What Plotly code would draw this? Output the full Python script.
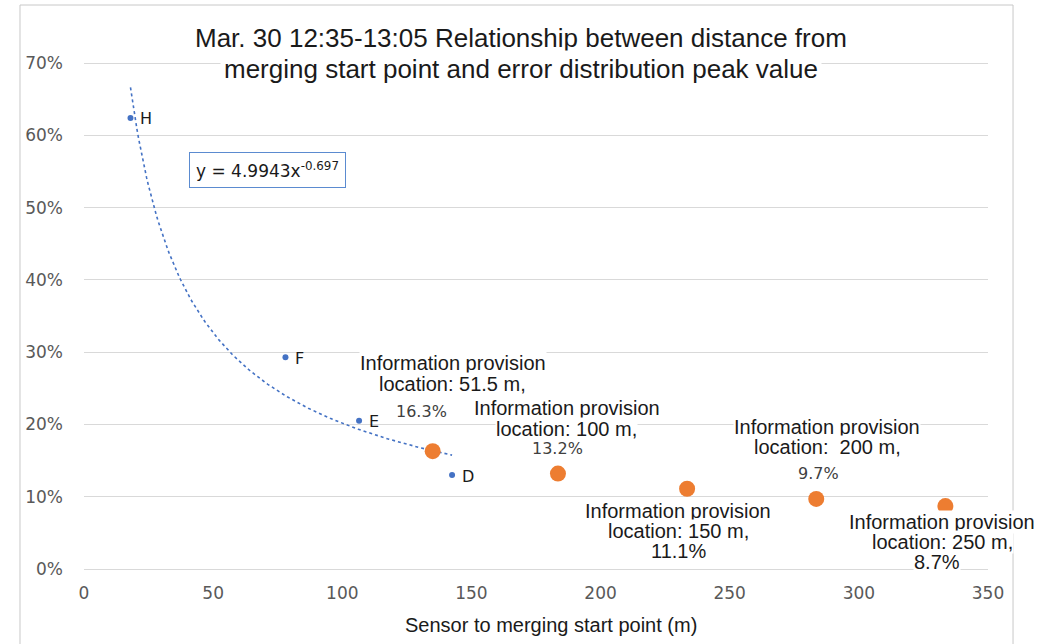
import numpy as np
import plotly.graph_objects as go

# Sensor observations (distance to merging start point, peak value of error distribution)
sensor_ids = ["H", "F", "E", "D"]
sensor_dist = [18, 78, 106.5, 142.5]
sensor_peak = [0.624, 0.293, 0.205, 0.130]

# Information provision locations mapped onto the same distance axis
info_loc_text = ["51.5", "100", "150", "200", "250"]
info_dist = [135, 183.5, 233.5, 283.5, 333.5]
info_peak = [0.163, 0.132, 0.111, 0.097, 0.087]

# Power trendline fitted to the sensor points: y = a * x^b
trend_a = 4.9943
trend_b = -0.697

x_ticks = [0, 50, 100, 150, 200, 250, 300, 350]
y_ticks = [0, 0.1, 0.2, 0.3, 0.4, 0.5, 0.6, 0.7]

title_lines = [
    "Mar. 30 12:35-13:05 Relationship between distance from",
    "merging start point and error distribution peak value",
]

BLUE = "#4472C4"
ORANGE = "#ED7D31"
GRID = "#d9d9d9"
TICK = "#595959"
TEXT = "#1a1a1a"

# Plot area geometry (pixels)
PLOT_TOP, PLOT_BOTTOM = 61, 569
PLOT_H = PLOT_BOTTOM - PLOT_TOP


def py(pix):
    """Convert a pixel row to paper y."""
    return (PLOT_BOTTOM - pix) / PLOT_H


fig = go.Figure()

tx = np.linspace(min(sensor_dist), max(sensor_dist), 200)
fig.add_trace(go.Scatter(
    x=tx, y=trend_a * tx ** trend_b, mode="lines",
    line=dict(color=BLUE, width=1.6, dash="dot"),
    hoverinfo="skip", showlegend=False,
))

fig.add_trace(go.Scatter(
    x=sensor_dist, y=sensor_peak, mode="markers",
    marker=dict(color=BLUE, size=6),
    showlegend=False,
))

fig.add_trace(go.Scatter(
    x=info_dist, y=info_peak, mode="markers",
    marker=dict(color=ORANGE, size=16),
    showlegend=False,
))

annotations = []

# Sensor point labels
for name, xv, yv in zip(sensor_ids, sensor_dist, sensor_peak):
    annotations.append(dict(
        x=xv, y=yv, xref="x", yref="y", text=name, showarrow=False,
        xanchor="left", yanchor="middle", xshift=8, yshift=-1,
        font=dict(family="DejaVu Sans", size=16, color=TEXT),
    ))

# Information provision labels: (line shifts, percent shift, percent style)
label_layout = [
    ((20, 88), (20, 67), (-11, 40), "grey"),
    ((9, 66), (9, 45), (0, 25), "grey"),
    ((-9, -22), (-9, -42), (-9, -62), "black"),
    ((11, 72), (11, 52), (2, 25), "grey"),
    ((-3, -16), (-3, -36), (-8, -56), "black"),
]
for loc, xv, yv, lay in zip(info_loc_text, info_dist, info_peak, label_layout):
    (s1x, s1y), (s2x, s2y), (s3x, s3y), style = lay
    loc_line = f"location:  {loc} m," if loc == "200" else f"location: {loc} m,"
    for txt, sx, sy in [("Information provision", s1x, s1y), (loc_line, s2x, s2y)]:
        annotations.append(dict(
            x=xv, y=yv, xref="x", yref="y", text=txt, showarrow=False,
            xanchor="center", yanchor="middle", xshift=sx, yshift=sy,
            bgcolor="white", borderpad=0,
            font=dict(family="Liberation Sans, Arial", size=20, color=TEXT),
        ))
    pct = f"{yv * 100:.1f}%"
    if style == "grey":
        pfont = dict(family="DejaVu Sans", size=16, color="#404040")
    else:
        pfont = dict(family="Liberation Sans, Arial", size=20, color=TEXT)
    annotations.append(dict(
        x=xv, y=yv, xref="x", yref="y", text=pct, showarrow=False,
        xanchor="center", yanchor="middle", xshift=s3x, yshift=s3y,
        bgcolor="white", borderpad=0, font=pfont,
    ))

# Trendline equation box
annotations.append(dict(
    x=0.2035, y=py(170), xref="paper", yref="paper",
    text=f"y = {trend_a}x<sup>{trend_b}</sup>", showarrow=False,
    xanchor="center", yanchor="middle",
    bordercolor="#5b8bd0", borderwidth=1, borderpad=6, bgcolor="white",
    font=dict(family="DejaVu Sans", size=17, color=TEXT),
))

# Chart title, one line per annotation for tight spacing
for line, ypix in zip(title_lines, [38, 69]):
    annotations.append(dict(
        x=0.4834, y=py(ypix), xref="paper", yref="paper",
        text=line, showarrow=False, xanchor="center", yanchor="middle",
        bgcolor="white", borderpad=3,
        font=dict(family="Liberation Sans, Arial", size=26, color=TEXT),
    ))

# X axis title
annotations.append(dict(
    x=0.5166, y=py(625), xref="paper", yref="paper",
    text="Sensor to merging start point (m)", showarrow=False,
    xanchor="center", yanchor="middle",
    font=dict(family="Liberation Sans, Arial", size=20, color=TEXT),
))

fig.update_layout(
    width=1055, height=644,
    margin=dict(l=84, r=67, t=PLOT_TOP, b=644 - PLOT_BOTTOM),
    paper_bgcolor="white", plot_bgcolor="white",
    annotations=annotations,
    shapes=[dict(
        type="rect", xref="paper", yref="paper",
        x0=-0.0708, x1=1.0277, y0=py(670), y1=py(5),
        line=dict(color="#c8c8c8", width=1), layer="below",
    )],
    showlegend=False,
)

fig.update_xaxes(
    range=[0, 350], tickvals=x_ticks, showgrid=False, zeroline=False,
    showline=False, ticks="", ticklabelstandoff=12,
    tickfont=dict(family="DejaVu Sans", size=17, color=TICK),
)
fig.update_yaxes(
    range=[0, 0.7 * PLOT_H / 506], tickvals=y_ticks, tickformat=".0%",
    showgrid=True, gridcolor=GRID, gridwidth=1,
    zeroline=True, zerolinecolor=GRID, zerolinewidth=1,
    showline=False, ticks="", ticklabelstandoff=20,
    tickfont=dict(family="DejaVu Sans", size=17, color=TICK),
)

fig.write_html("out.html")
